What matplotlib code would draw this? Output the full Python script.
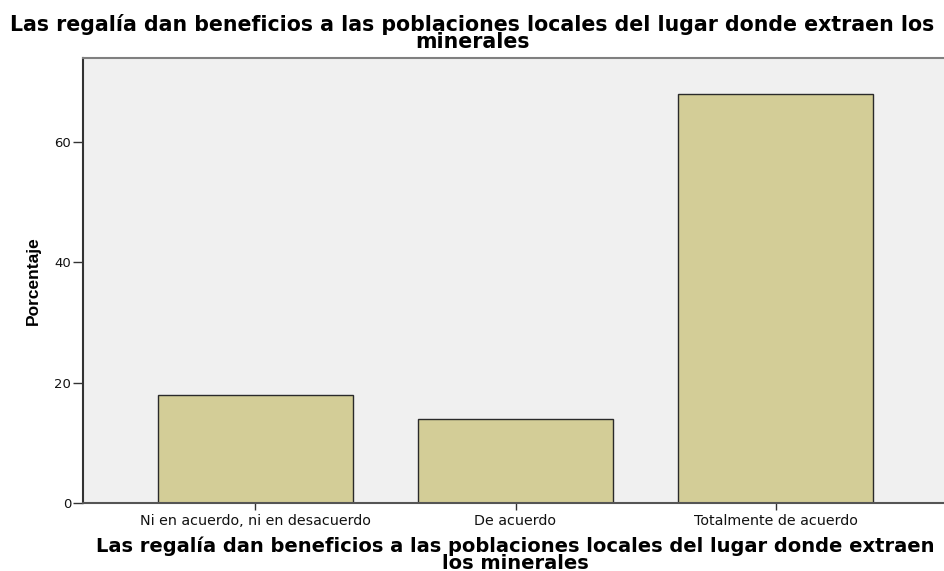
import matplotlib.pyplot as plt

categorias = ['Ni en acuerdo, ni en desacuerdo', 'De acuerdo', 'Totalmente de acuerdo']
porcentaje = [18, 14, 68]
yticks = [0, 20, 40, 60]

titulo = 'Las regalía dan beneficios a las poblaciones locales del lugar donde extraen los\nminerales'
xlab = 'Las regalía dan beneficios a las poblaciones locales del lugar donde extraen\nlos minerales'

plt.rcParams['font.family'] = ['DejaVu Sans']

fig = plt.figure(figsize=(9.45, 5.71), dpi=100)
ax = fig.add_axes([83/945, 1-503/571, (948-83)/945, (503-58)/571])
ax.set_facecolor('#f0f0f0')

pos = list(range(len(categorias)))
ax.bar(pos, porcentaje, width=0.75, color='#d3cd97', edgecolor='#2a2a2a', linewidth=1.0, zorder=2)

ax.set_xlim(-0.663, 2.663)
ax.set_ylim(0, 73.9)
ax.set_yticks(yticks)
ax.set_xticks(pos)
ax.set_xticklabels(categorias, fontsize=10.3)
ax.tick_params(axis='y', direction='out', length=7.5, width=1, labelsize=9.5, colors='#333333', pad=1)
ax.tick_params(axis='x', direction='out', length=5, width=1, colors='#333333', pad=3)
for lbl in ax.get_xticklabels() + ax.get_yticklabels():
    lbl.set_color('#111111')

ax.spines['right'].set_visible(False)
ax.spines['top'].set_color('#808080')
ax.spines['top'].set_linewidth(1.5)
ax.spines['left'].set_color('#333333')
ax.spines['left'].set_linewidth(1.5)
ax.spines['bottom'].set_color('#555555')
ax.spines['bottom'].set_linewidth(1.5)

ax.set_ylabel('Porcentaje', fontsize=12.5, fontweight='bold', labelpad=10,
              family=['Liberation Sans'])
ax.set_xlabel(xlab, fontsize=14, fontweight='bold', labelpad=6, linespacing=0.85)

fig.text(0.5, 0.975, titulo, ha='center', va='top', fontsize=14.8, fontweight='bold', linespacing=0.8)

fig.savefig('out.png', dpi=100)
